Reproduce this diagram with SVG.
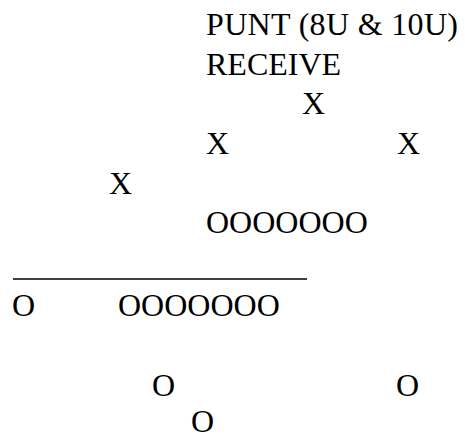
<svg xmlns="http://www.w3.org/2000/svg" width="465" height="440" viewBox="0 0 465 440">
  <style>
    text { font-family: "Liberation Serif", "DejaVu Serif", serif; font-size: 32px; fill: #000; }
  </style>
  <rect width="465" height="440" fill="#fff"/>
  <!-- title -->
  <g id="title">
    <text x="206" y="35" textLength="252" lengthAdjust="spacing">PUNT (8U &amp; 10U)</text>
    <text x="206" y="75">RECEIVE</text>
  </g>
  <!-- receiving team -->
  <g id="receivers">
    <text x="302" y="114">X</text>
    <text x="206" y="154">X</text>
    <text x="397" y="154">X</text>
    <text x="109" y="194">X</text>
    <text x="206" y="233">OOOOOOO</text>
  </g>
  <!-- line of scrimmage -->
  <line x1="13" y1="279" x2="307" y2="279" stroke="#000" stroke-width="1.5"/>
  <!-- punting team -->
  <g id="punters">
    <text x="12" y="316">O</text>
    <text x="118" y="316">OOOOOOO</text>
    <text x="152" y="396">O</text>
    <text x="396" y="396">O</text>
    <text x="191" y="432">O</text>
  </g>
</svg>
